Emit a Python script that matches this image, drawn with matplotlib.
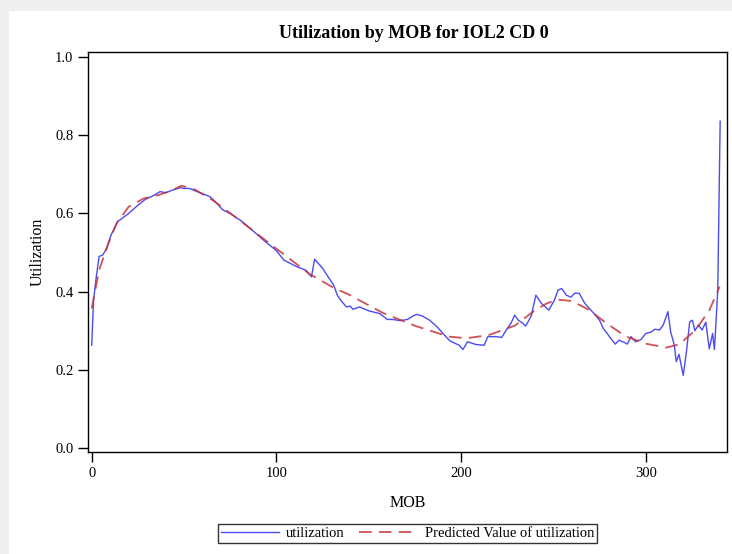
import matplotlib
matplotlib.use('Agg')
import matplotlib.pyplot as plt
from matplotlib.patches import Rectangle

mob = [0, 1, 2.5, 4, 6, 8, 10.5, 14, 20, 24, 29, 34, 37, 40, 44, 48, 50, 53, 57, 62,
       64, 67, 71, 75, 81, 88, 93, 100, 104, 111, 116, 119, 120.7, 125, 129, 131, 133,
       135, 138, 140, 141.5, 145, 150, 156, 160, 163, 167, 171, 174, 176, 179, 183, 187,
       191, 194, 199, 201, 203.5, 208, 212.5, 214.5, 219, 222, 224.5, 227, 229, 231,
       233.5, 235, 238, 240.5, 243.5, 247.5, 250.5, 252.5, 254.5, 257, 259.5, 261.5,
       264, 267, 269.5, 272, 275, 277, 278.5, 281, 283.5, 285.5, 288.5, 290, 292,
       294.5, 297.5, 300, 303, 305, 307.5, 309.5, 312, 313.5, 315.5, 316.5, 318, 320.3,
       322, 323.8, 325.3, 326.6, 328.5, 330.5, 332.5, 334.4, 336.2, 337.2, 339, 340.3]
utilization = [0.263, 0.378, 0.438, 0.49, 0.494, 0.51, 0.545, 0.579, 0.600, 0.617, 0.636,
               0.647, 0.656, 0.653, 0.660, 0.666, 0.664, 0.664, 0.656, 0.647, 0.643, 0.630,
               0.609, 0.600, 0.581, 0.553, 0.532, 0.505, 0.481, 0.464, 0.455, 0.438, 0.483,
               0.460, 0.431, 0.417, 0.391, 0.377, 0.361, 0.363, 0.355, 0.361, 0.351, 0.344,
               0.329, 0.329, 0.326, 0.329, 0.338, 0.342, 0.338, 0.327, 0.310, 0.289, 0.274,
               0.263, 0.252, 0.272, 0.265, 0.263, 0.285, 0.285, 0.283, 0.302, 0.319, 0.340,
               0.327, 0.319, 0.312, 0.338, 0.391, 0.370, 0.353, 0.378, 0.404, 0.408, 0.391,
               0.386, 0.396, 0.396, 0.370, 0.357, 0.344, 0.327, 0.306, 0.297, 0.281, 0.266,
               0.276, 0.270, 0.266, 0.285, 0.272, 0.278, 0.293, 0.297, 0.304, 0.302, 0.315,
               0.349, 0.297, 0.263, 0.221, 0.240, 0.186, 0.245, 0.323, 0.327, 0.300, 0.315,
               0.302, 0.322, 0.254, 0.293, 0.252, 0.404, 0.836]

# predicted (fitted) curve
mob_pred = [0, 4, 9, 13.5, 20, 28, 36, 43, 48.5, 56, 65.5, 80, 100, 118, 131, 140, 145,
            157.5, 175.5, 193.5, 203, 215, 229, 240.5, 246, 252, 260, 269.5, 278.5, 289,
            300, 311, 318, 327, 334.5, 340]
predicted = [0.357, 0.455, 0.523, 0.575, 0.617, 0.638, 0.647, 0.658, 0.671, 0.661, 0.634,
             0.583, 0.510, 0.445, 0.41, 0.391, 0.378, 0.346, 0.312, 0.285, 0.281, 0.289,
             0.313, 0.354, 0.369, 0.380, 0.376, 0.353, 0.320, 0.286, 0.267, 0.257, 0.265,
             0.302, 0.353, 0.413]

serif = ['Liberation Serif', 'DejaVu Serif']
plt.rcParams['font.family'] = serif

fig = plt.figure(figsize=(7.32, 5.54), dpi=100)
fig.patch.set_facecolor('#efefef')
fig.patches.append(Rectangle((9 / 732, 0), 1, (554 - 11) / 554, transform=fig.transFigure,
                             facecolor='white', edgecolor='none', zorder=-1))

ax = fig.add_axes([88 / 732, 102 / 554, 639 / 732, 400 / 554])
ax.plot(mob, utilization, color='#4b4bf0', linewidth=1.0, label='utilization')
ax.plot(mob_pred, predicted, color='#c8323c', linewidth=1.3, dashes=(7, 4), alpha=0.85,
        label='Predicted Value of utilization')

ax.set_xlim(-2, 344)
ax.set_ylim(-0.01, 1.013)
ax.set_xticks([0, 100, 200, 300])
ax.set_yticks([0.0, 0.2, 0.4, 0.6, 0.8, 1.0])
ax.set_yticklabels(['0.0', '0.2', '0.4', '0.6', '0.8', '1.0'])
ax.tick_params(direction='out', length=7, width=1, labelsize=10.5)
for s in ax.spines.values():
    s.set_linewidth(1.0)

ax.set_xlabel('MOB', fontsize=11.5, labelpad=11)
ax.set_ylabel('Utilization', fontsize=11.5, labelpad=7)
fig.text(414 / 732, 1 - 33 / 554, 'Utilization by MOB for IOL2 CD 0', fontsize=13,
         fontweight='bold', ha='center', va='center')

leg = ax.legend(loc='upper center', bbox_to_anchor=(0.5, -0.18), ncol=2, fontsize=10.5,
                frameon=True, fancybox=False, handlelength=4.0, columnspacing=1.0,
                borderpad=0.2, handletextpad=0.5, borderaxespad=0)
leg.get_frame().set_edgecolor('black')
leg.get_frame().set_linewidth(1.0)

fig.savefig('out.png', dpi=100, facecolor=fig.get_facecolor())
